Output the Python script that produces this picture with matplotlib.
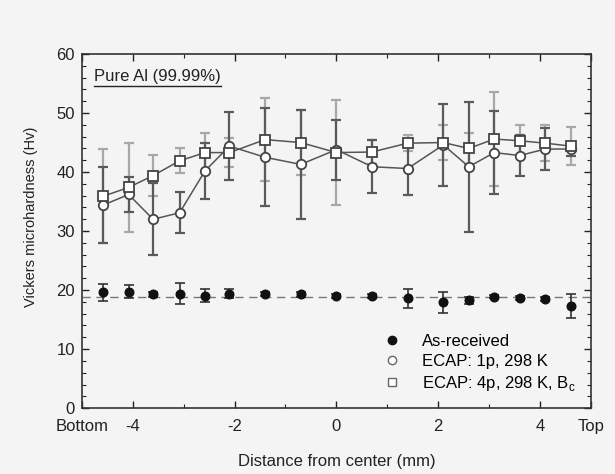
import matplotlib
matplotlib.use("Agg")
import matplotlib.pyplot as plt
from matplotlib.lines import Line2D
import numpy as np

plt.rcParams['font.family'] = ['Liberation Sans', 'DejaVu Sans']

# distance from center (mm)
x = [-4.58, -4.08, -3.6, -3.08, -2.58, -2.1, -1.4, -0.7, 0.0, 0.7,
     1.4, 2.1, 2.6, 3.1, 3.6, 4.1, 4.6]

# as-received
asr = [19.6, 19.7, 19.3, 19.4, 19.0, 19.4, 19.3, 19.3, 19.0, 19.0,
       18.6, 17.9, 18.3, 18.9, 18.7, 18.5, 17.3]
asr_err = [1.4, 1.1, 0.4, 1.8, 1.1, 0.7, 0.3, 0.4, 0.4, 0.3,
           1.6, 1.8, 0.6, 0.3, 0.3, 0.3, 2.0]
asr_mean = 18.9

# ECAP 1 pass
p1 = [34.4, 36.2, 32.0, 33.1, 40.2, 44.4, 42.5, 41.3, 43.8, 40.9,
      40.6, 44.6, 40.9, 43.3, 42.8, 43.9, 43.9]
p1_err = [6.4, 3.0, 6.1, 3.5, 4.7, 5.8, 8.3, 9.2, 5.1, 4.5,
          4.5, 7.0, 11.0, 7.0, 3.5, 3.6, 1.2]

# ECAP 4 passes
p4 = [35.9, 37.4, 39.4, 41.9, 43.3, 43.3, 45.5, 45.0, 43.3, 43.4,
      44.9, 45.0, 44.0, 45.6, 45.3, 44.9, 44.4]
p4_err = [8.0, 7.5, 3.5, 2.1, 3.3, 2.5, 7.0, 5.5, 8.9, 2.0,
          1.4, 3.0, 2.7, 7.9, 2.7, 3.0, 3.2]

xticks = [-5, -4, -2, 0, 2, 4, 5]
xticklabels = ['Bottom', '-4', '-2', '0', '2', '4', 'Top']

bg = '#f4f4f4'
fig = plt.figure(figsize=(6.15, 4.74), dpi=100, facecolor=bg)
ax = fig.add_axes([0.133, 0.139, 0.828, 0.747], facecolor=bg)

# error bars (4p lighter, 1p darker)
ax.errorbar(x, p4, yerr=p4_err, fmt='none', ecolor='#a8a8a8', elinewidth=1.6,
            capsize=3.3, capthick=1.6, zorder=2)
ax.errorbar(x, p1, yerr=p1_err, fmt='none', ecolor='#5a5a5a', elinewidth=1.6,
            capsize=3.3, capthick=1.6, zorder=3)
ax.errorbar(x, asr, yerr=asr_err, fmt='none', ecolor='#333333', elinewidth=1.2,
            capsize=3.3, capthick=1.2, zorder=3)

ax.axhline(asr_mean, color='#777777', lw=1.0, ls=(0, (6, 4)), zorder=1)

ax.plot(x, p1, '-o', color='#555555', lw=1.1, ms=6.8, mfc='white',
        mec='#444444', mew=1.3, zorder=4)
ax.plot(x, p4, '-s', color='#555555', lw=1.1, ms=6.5, mfc='white',
        mec='#444444', mew=1.3, zorder=5)
ax.plot(x, asr, 'o', color='#111111', ms=6.2, zorder=6)

ax.set_xlim(-5, 5)
ax.set_ylim(0, 60)
ax.set_xticks(xticks)
ax.set_xticklabels(xticklabels)
ax.set_xticks([-3, -1, 1, 3], minor=True)
ax.set_yticks(np.arange(0, 61, 10))
ax.set_yticks(np.arange(0, 61, 2), minor=True)
ax.tick_params(which='both', direction='in', top=True, right=True,
               labelsize=12, colors='#222222')
ax.tick_params(axis='x', pad=8)
ax.tick_params(axis='y', pad=5)
ax.tick_params(which='major', length=5, width=1)
ax.tick_params(which='minor', length=3, width=0.8)
for s in ax.spines.values():
    s.set_color('#333333')
    s.set_linewidth(1.2)

ax.set_xlabel('Distance from center (mm)', fontsize=12, color='#222222', labelpad=14)
ax.set_ylabel('Vickers microhardness (Hv)', fontsize=10.5, color='#222222')
ax.yaxis.set_label_coords(-0.086, 0.54)

title = ax.text(0.024, 0.924, 'Pure Al (99.99%)', transform=ax.transAxes,
                fontsize=12, color='#222222', va='baseline', ha='left')
fig.canvas.draw()
bb = title.get_window_extent().transformed(ax.transAxes.inverted())
ax.plot([bb.x0, bb.x1], [bb.y0 - 0.006, bb.y0 - 0.006], color='#222222',
        lw=1.0, transform=ax.transAxes, clip_on=False)

handles = [
    Line2D([], [], ls='none', marker='o', ms=6, color='#111111'),
    Line2D([], [], ls='none', marker='o', ms=6, mfc='white', mec='#666666', mew=1),
    Line2D([], [], ls='none', marker='s', ms=6, mfc='white', mec='#666666', mew=1),
]
labels = ['As-received', 'ECAP: 1p, 298 K', 'ECAP: 4p, 298 K, B$_\\mathregular{c}$']
ax.legend(handles, labels, loc='lower right', frameon=False, fontsize=12,
          handlelength=1.0, handletextpad=1.3, labelspacing=0.3,
          borderaxespad=0.5)

fig.savefig('out.png', dpi=100, facecolor=bg)
